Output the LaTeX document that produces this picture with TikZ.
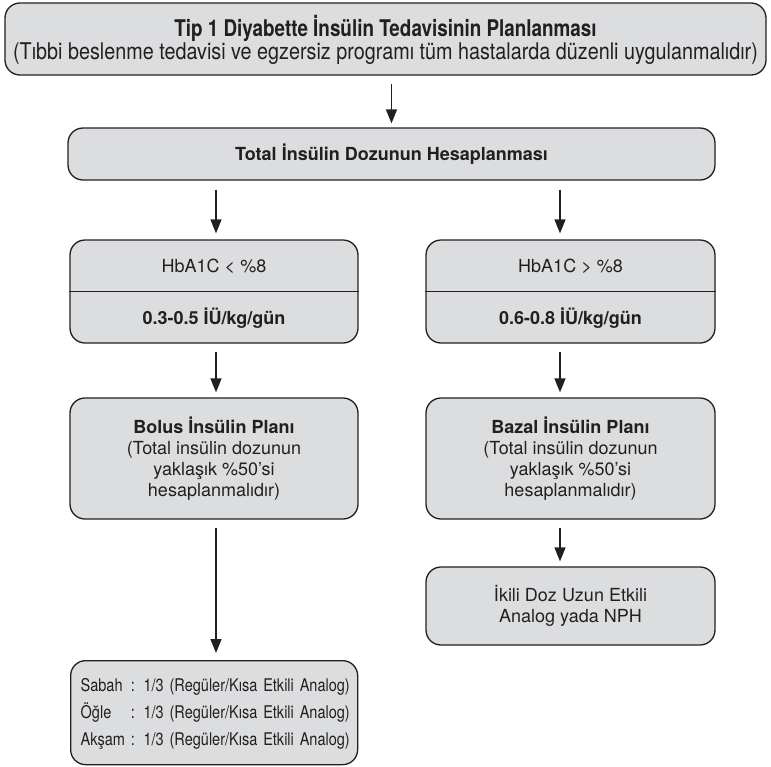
\documentclass[tikz,border=0pt]{standalone}
\usepackage{fontspec}
\setmainfont{TeX Gyre Heros}
\newfontfamily\condfont[FakeStretch=0.82]{TeX Gyre Heros}
\newfontfamily\subfont[FakeStretch=0.86]{TeX Gyre Heros}
\newfontfamily\botfont[FakeStretch=0.83]{TeX Gyre Heros}
\usetikzlibrary{arrows.meta}
\definecolor{boxfill}{RGB}{220,221,223}
\definecolor{ink}{RGB}{35,31,32}
\begin{document}
\begin{tikzpicture}[x=1pt,y=-1pt,
  box/.style={draw=ink, fill=boxfill, line width=1.3pt, rounded corners=15pt, inner sep=0pt,
    text=ink, align=center, font=\fontsize{18}{21}\selectfont},
  txt/.style={text=ink, align=center, inner sep=0pt, font=\fontsize{18}{21}\selectfont},
  arr/.style={draw=ink, line width=1.3pt, -{Triangle[width=11pt,length=14pt]}},
]
\useasboundingbox (0,0) rectangle (771,766);

% top box
\node[box, minimum width=761pt, minimum height=72pt] (top) at (385.5,39) {};
\node[txt, font=\condfont\bfseries\fontsize{23}{26}\selectfont] (t1) at (385.5,28) {Tip 1 Diyabette İnsülin Tedavisinin Planlanması};
\node[txt, font=\subfont\fontsize{23}{26}\selectfont] (t2) at (385.5,54) {(Tıbbi beslenme tedavisi ve egzersiz programı tüm hastalarda düzenli uygulanmalıdır)};

% total
\node[box, minimum width=647pt, minimum height=52pt, font=\bfseries\fontsize{18}{21}\selectfont] (b2) at (391.5,154) {Total İnsülin Dozunun Hesaplanması};

% HbA1C boxes
\node[box, minimum width=288pt, minimum height=103pt] (hl) at (214,291.5) {};
\draw[draw=ink, line width=1.3pt] (hl.west) -- (hl.east);
\node[txt] (hl1) at (214,266) {HbA1C < \%8};
\node[txt, font=\bfseries\fontsize{18}{21}\selectfont] (hl2) at (214,318) {0.3-0.5 İÜ/kg/gün};

\node[box, minimum width=289pt, minimum height=103pt] (hr) at (570.5,291.5) {};
\draw[draw=ink, line width=1.3pt] (hr.west) -- (hr.east);
\node[txt] (hr1) at (570.5,266) {HbA1C > \%8};
\node[txt, font=\bfseries\fontsize{18}{21}\selectfont] (hr2) at (570.5,318) {0.6-0.8 İÜ/kg/gün};

% plans
\node[box, minimum width=288pt, minimum height=121pt] (bl) at (214,458.5)
  {\textbf{Bolus İnsülin Planı}\\(Total insülin dozunun\\yaklaşık \%50’si\\hesaplanmalıdır)};
\node[box, minimum width=289pt, minimum height=121pt] (bz) at (570.5,458.5)
  {\textbf{Bazal İnsülin Planı}\\(Total insülin dozunun\\yaklaşık \%50’si\\hesaplanmalıdır)};

% NPH
\node[box, minimum width=289pt, minimum height=78pt] (np) at (570.5,606)
  {İkili Doz Uzun Etkili\\Analog yada NPH};

% bottom
\node[box, anchor=north west, minimum height=104pt, inner xsep=10pt, text width=267pt,
      align=left, font=\botfont\fontsize{17.5}{21.6}\selectfont] (bt) at (70,660)
  {\renewcommand\arraystretch{1.25}%
   \begin{tabular}{@{}l@{\ }l@{}}
   Sabah & : 1/3 (Regüler/Kısa Etkili Analog)\\
   Öğle  & : 1/3 (Regüler/Kısa Etkili Analog)\\
   Akşam & : 1/3 (Regüler/Kısa Etkili Analog)
   \end{tabular}};

% arrows
\coordinate (xl) at (216,0);
\coordinate (xr) at (560,0);
\draw[arr, shorten <=8pt, shorten >=4pt] (top.south -| b2.north) -- (b2.north);
\draw[arr, shorten <=9pt, shorten >=6pt] (b2.south -| xl) -- (hl.north -| xl);
\draw[arr, shorten <=9pt, shorten >=6pt] (b2.south -| xr) -- (hr.north -| xr);
\draw[arr, shorten <=8pt, shorten >=5pt] (hl.south -| xl) -- (bl.north -| xl);
\draw[arr, shorten <=8pt, shorten >=5pt] (hr.south -| xr) -- (bz.north -| xr);
\draw[arr, shorten <=8pt, shorten >=5pt] (bz.south -| xr) -- (np.north -| xr);
\draw[arr, shorten <=8pt, shorten >=7pt] (bl.south -| xl) -- (bt.north -| xl);
\end{tikzpicture}
\end{document}
